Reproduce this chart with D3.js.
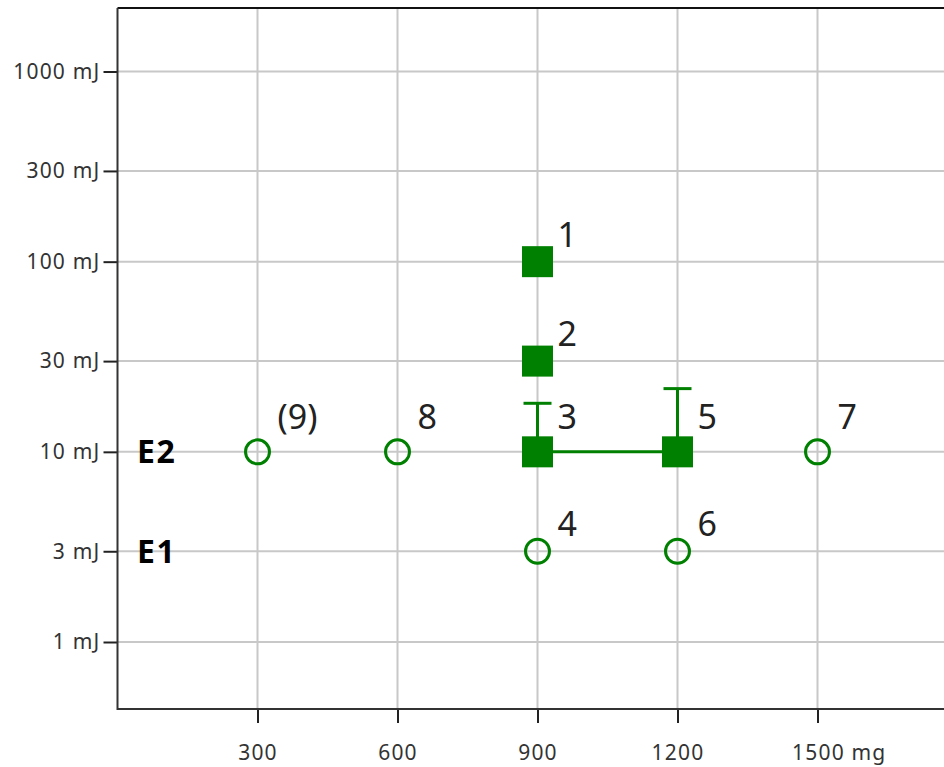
<!DOCTYPE html>
<html>
<head>
<meta charset="utf-8">
<script src="https://cdn.jsdelivr.net/npm/d3@7"></script>
<style>
  body { margin: 0; background: #fff; }
  svg { display: block; font-family: "Noto Sans", "Open Sans", sans-serif; }
</style>
</head>
<body>
<div class="graphHold"></div>
<script>
/*** DATA ***/
let xTicks = [300, 600, 900, 1200, 1500];
let xTickLabels = ['300', '600', '900', '1200', '1500 mg'];
let yTicks = [1, 3, 10, 30, 100, 300, 1000];
let yTickLabels = ['1 mJ', '3 mJ', '10 mJ', '30 mJ', '100 mJ', '300 mJ', '1000 mJ'];

/* points pleins (carrés) */
let filledDose = [900, 900, 900, 1200];
let filledEnergy = [100, 30, 10, 10];
let filledLabels = ['1', '2', '3', '5'];
/* barres d'erreur (haut) pour 3 et 5 */
let errDose = [900, 1200];
let errLow = [10, 10];
let errHigh = [18, 21.5];
/* ligne entre 3 et 5 */
let lineDose = [900, 1200];
let lineEnergy = [10, 10];

/* points vides (cercles) */
let openDose = [300, 600, 900, 1200, 1500];
let openEnergy = [10, 10, 3, 3, 10];
let openLabels = ['(9)', '8', '4', '6', '7'];

/* niveaux E1 / E2 */
let levelNames = ['E2', 'E1'];
let levelEnergy = [10, 3];

/*** GRAPH ***/
let width = 944,
    height = 767,
    green = '#008000';

let svg = d3.select('.graphHold').
append('svg').
attr('width', width).
attr('height', height);

let xScale = d3.scaleLinear().
domain([0, 1800]).
range([117.5, 957.5]);

let yScale = d3.scaleLog().
domain([1, 1000]).
range([642, 71.5]);

let plotTop = 8, plotBottom = 709, plotLeft = 117.5;

/* grille */
svg.append('g').selectAll('line').
data(xTicks).
enter().
append('line').
attr('x1', d => xScale(d)).
attr('x2', d => xScale(d)).
attr('y1', plotTop).
attr('y2', plotBottom).
style('stroke', '#c8c8c8').
style('stroke-width', 2);

svg.append('g').selectAll('line').
data(yTicks).
enter().
append('line').
attr('x1', plotLeft).
attr('x2', width).
attr('y1', d => yScale(d)).
attr('y2', d => yScale(d)).
style('stroke', '#c8c8c8').
style('stroke-width', 2);

/* cadre */
svg.append('line').
attr('x1', plotLeft).attr('x2', width).
attr('y1', plotTop).attr('y2', plotTop).
style('stroke', '#111').style('stroke-width', 2);

/* axe X */
let xAxis = d3.axisBottom(xScale).
tickValues(xTicks).
tickSize(14).
tickPadding(22).
tickFormat((d, i) => xTickLabels[i]);

let xAxisGroup = svg.append('g').
attr('transform', 'translate(0,' + plotBottom + ')').
call(xAxis);
xAxisGroup.select('.domain').remove();
xAxisGroup.append('line').
attr('x1', plotLeft).attr('x2', width).
style('stroke', '#333').style('stroke-width', 2);
xAxisGroup.selectAll('.tick line').style('stroke', '#222').style('stroke-width', 2);
xAxisGroup.selectAll('.tick text').
style('font-size', '21px').
style('letter-spacing', '1.2px').
style('font-family', '"Noto Sans", sans-serif').
attr('fill', '#333');
/* '1500 mg' : nombre centré sur la graduation */
xAxisGroup.selectAll('.tick text').
filter((d, i) => i === xTicks.length - 1).
attr('text-anchor', 'start').
attr('x', -26);

/* axe Y */
let yAxis = d3.axisLeft(yScale).
tickValues(yTicks).
tickSize(14).
tickPadding(3).
tickFormat((d, i) => yTickLabels[i]);

let yAxisGroup = svg.append('g').
attr('transform', 'translate(' + plotLeft + ',0)').
call(yAxis);
yAxisGroup.select('.domain').remove();
yAxisGroup.append('line').
attr('y1', plotTop).attr('y2', plotBottom + 1).
style('stroke', '#333').style('stroke-width', 2);
yAxisGroup.selectAll('.tick line').style('stroke', '#222').style('stroke-width', 2);
yAxisGroup.selectAll('.tick text').
style('font-size', '21px').
style('letter-spacing', '1.2px').
style('font-family', '"Noto Sans", sans-serif').
attr('fill', '#333');

/* E1 / E2 */
svg.selectAll('text.level').
data(levelNames).
enter().
append('text').
attr('class', 'level').
attr('x', 137).
attr('y', (d, i) => yScale(levelEnergy[i])).
attr('dy', '0.36em').
style('font-size', '32px').
style('letter-spacing', '1.5px').
style('font-weight', 'bold').
style('fill', '#000').
text(d => d);

/* ligne 3 - 5 */
svg.append('path').
datum(lineDose.map((d, i) => [d, lineEnergy[i]])).
attr('d', d3.line().x(d => xScale(d[0])).y(d => yScale(d[1]))).
style('stroke', green).
style('stroke-width', 3).
style('fill', 'none');

/* barres d'erreur */
let err = svg.append('g').selectAll('g').
data(errDose).
enter().
append('g');
err.append('line').
attr('x1', d => xScale(d)).
attr('x2', d => xScale(d)).
attr('y1', (d, i) => yScale(errLow[i])).
attr('y2', (d, i) => yScale(errHigh[i])).
style('stroke', green).
style('stroke-width', 3);
err.append('line').
attr('x1', d => xScale(d) - 14).
attr('x2', d => xScale(d) + 14).
attr('y1', (d, i) => yScale(errHigh[i])).
attr('y2', (d, i) => yScale(errHigh[i])).
style('stroke', green).
style('stroke-width', 3);

/* carrés */
let sq = 31;
svg.append('g').selectAll('rect').
data(filledDose).
enter().
append('rect').
attr('x', d => xScale(d) - sq / 2).
attr('y', (d, i) => yScale(filledEnergy[i]) - sq / 2).
attr('width', sq).
attr('height', sq).
style('fill', green);

/* cercles */
svg.append('g').selectAll('circle').
data(openDose).
enter().
append('circle').
attr('cx', d => xScale(d)).
attr('cy', (d, i) => yScale(openEnergy[i])).
attr('r', 12).
style('fill', 'none').
style('stroke', green).
style('stroke-width', 3);

/* étiquettes des points : plus hautes sur la ligne E2 */
let allDose = filledDose.concat(openDose);
let allEnergy = filledEnergy.concat(openEnergy);
let allLabels = filledLabels.concat(openLabels);
svg.append('g').selectAll('text').
data(allLabels).
enter().
append('text').
attr('x', (d, i) => xScale(allDose[i]) + 20).
attr('y', (d, i) => yScale(allEnergy[i]) - (allEnergy[i] === 10 ? 23 : 15)).
style('font-size', '34px').
style('fill', '#222').
text(d => d);
</script>
</body>
</html>
